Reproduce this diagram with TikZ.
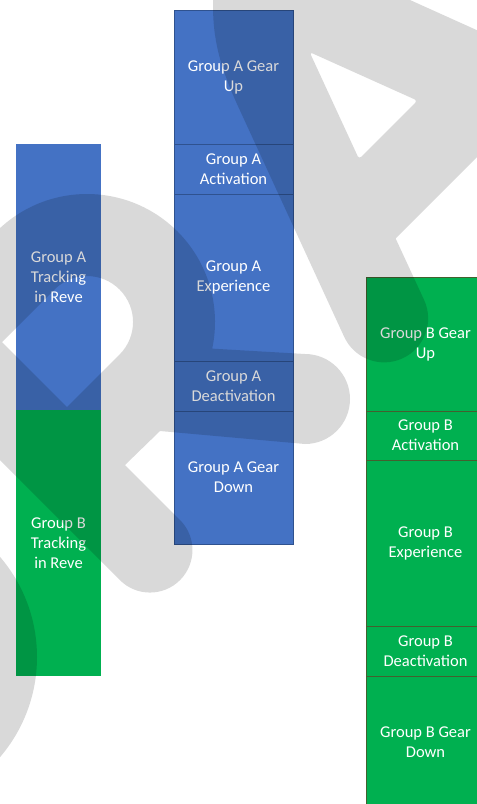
\documentclass[tikz,border=0pt]{standalone}
\usepackage{fontspec}
\setmainfont{Carlito}
\usepackage{xcolor}
\definecolor{groupA}{HTML}{4472C4}
\definecolor{groupB}{HTML}{00B050}
\definecolor{edgeA}{HTML}{2F528F}
\definecolor{edgeB}{HTML}{44602F}

\tikzset{
  phase/.style={rectangle, minimum width=119pt, inner sep=2pt, outer sep=0pt,
    align=center, text=white, font=\fontsize{16.5}{20}\selectfont},
  phaseA/.style={phase, fill=groupA, draw=edgeA, line width=0.9pt},
  phaseB/.style={phase, fill=groupB, draw=edgeB, line width=0.9pt},
  track/.style={phase, minimum width=85pt, minimum height=266pt},
  wmark/.style={fill=black, fill opacity=0.15, even odd rule}
}

\begin{document}
\begin{tikzpicture}[x=1pt, y=1pt, yscale=-1]
\useasboundingbox (0,0) rectangle (477,804);
\clip (0,0) rectangle (477,804);
\fill[white] (0,0) rectangle (477,804);

% 左の列
\node[track, fill=groupA] (trackA) at (58.5,277) {Group A\\Tracking\\in Reve};
\node[track, fill=groupB] (trackB) at (58.5,543) {Group B\\Tracking\\in Reve};

% グループA
\node[phaseA, minimum height=134pt] (gearupA) at (233.5,77) {Group A Gear\\Up};
\node[phaseA, minimum height=50pt] (actA) at (233.5,169) {Group A\\Activation};
\node[phaseA, minimum height=167pt] (expA) at (233.5,277.5) {Group A\\Experience};
\node[phaseA, minimum height=50pt] (deactA) at (233.5,386) {Group A\\Deactivation};
\node[phaseA, minimum height=133pt] (geardownA) at (233.5,477.5) {Group A Gear\\Down};

% グループB
\node[phaseB, minimum height=134pt] (gearupB) at (425.5,344) {Group B Gear\\Up};
\node[phaseB, minimum height=49pt] (actB) at (425.5,435.5) {Group B\\Activation};
\node[phaseB, minimum height=166pt] (expB) at (425.5,543) {Group B\\Experience};
\node[phaseB, minimum height=50pt] (deactB) at (425.5,651) {Group B\\Deactivation};
\node[phaseB, minimum height=133pt] (geardownB) at (425.5,742.5) {Group B Gear\\Down};

% 透かし
\fill[wmark] (-117,657) circle[radius=154];
\fill[wmark] (-3.5,231.5) arc[start angle=-135, end angle=12, radius=128]
  -- (305,354) arc[start angle=-90, end angle=90, radius=45]
  -- (160,431) -- (125,465) -- (180,520)
  arc[start angle=-45, end angle=135, radius=42.5]
  -- (-116,344) -- cycle
  (2,342) -- (54.5,289.5) arc[start angle=-135, end angle=45, radius=46]
  -- (67,407) -- cycle;
\fill[wmark] (213,-50) -- (213,5) .. controls (213,40) and (220,66) .. (237,104)
  -- (344,336.4) arc[start angle=155.8, end angle=-24.2, radius=44]
  -- (395.6,238.4) -- (497.3,136.7) -- (530,151.4) -- (530,54.1)
  -- (410,0) -- (300,-49.6) -- cycle
  [rounded corners=3pt] (309.6,52.1) -- (417.4,100.6) -- (359,159) -- cycle;
\end{tikzpicture}
\end{document}
